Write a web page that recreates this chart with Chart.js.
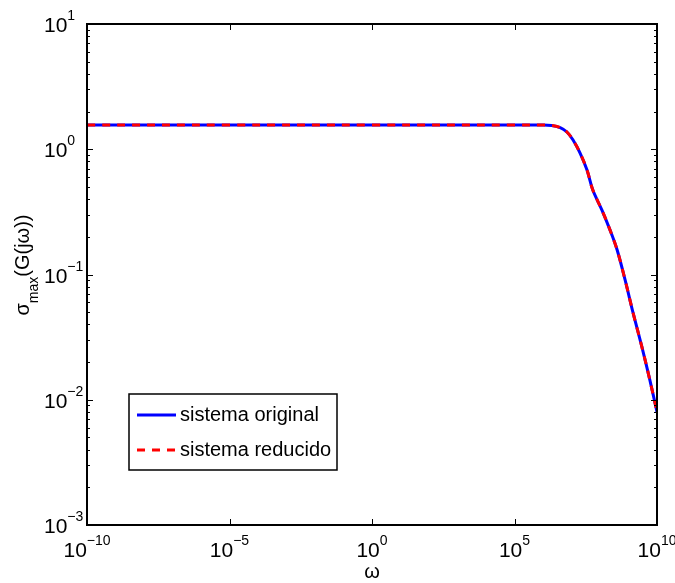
<!DOCTYPE html>
<html>
<head>
<meta charset="utf-8">
<script src="https://cdn.jsdelivr.net/npm/chart.js@4/dist/chart.umd.min.js"></script>
<style>
    body { margin: 0; background: #fff; }
</style>
</head>
<body>
<canvas id="chart" width="675" height="583"></canvas>
<script>
// frequency points (rad/s)
const omega = [1e-10, 1e-5, 1, 1e5, 7.8e5, 2.0e6, 4.0e6, 6.9e6, 1.12e7, 2.0e7, 3.5e7, 5.6e7, 1.17e8, 2.24e8, 4.0e8, 7.6e8, 1.45e9, 2.95e9, 5.6e9, 1e10];
const sigmaOriginal = [1.56, 1.56, 1.56, 1.56, 1.56, 1.55, 1.49, 1.373, 1.19, 0.933, 0.683, 0.472, 0.327, 0.227, 0.157, 0.0904, 0.0493, 0.0264, 0.0144, 0.008];
const sigmaReducido = [1.56, 1.56, 1.56, 1.56, 1.56, 1.55, 1.49, 1.373, 1.19, 0.933, 0.683, 0.472, 0.327, 0.227, 0.157, 0.0904, 0.0493, 0.0264, 0.0144, 0.008];
const seriesNames = ["sistema original", "sistema reducido"];
const xTickExps = [-10, -5, 0, 5, 10];
const yTickExps = [-3, -2, -1, 0, 1];

const FONT = "'Liberation Sans', Arial, Helvetica, sans-serif";

function toPoints(xs, ys) {
    return xs.map((x, i) => ({ x: x, y: ys[i] }));
}

// draws 10^exp
function drawPow(ctx, exp, x, baseline, align) {
    const base = "10";
    const sup = exp < 0 ? "\u2212" + Math.abs(exp) : String(exp);
    ctx.font = "21px " + FONT;
    const wb = ctx.measureText(base).width;
    ctx.font = "14px " + FONT;
    const ws = ctx.measureText(sup).width;
    let x0 = x;
    if (align === "center") x0 = x - (wb + ws) / 2;
    ctx.textAlign = "left";
    ctx.textBaseline = "alphabetic";
    ctx.font = "21px " + FONT;
    ctx.fillText(base, x0, baseline);
    ctx.font = "14px " + FONT;
    ctx.fillText(sup, x0 + wb, baseline - 12);
}

const axesPlugin = {
    id: "matlabAxes",
    afterDraw(chart) {
        const ctx = chart.ctx;
        const area = chart.chartArea;
        const xs = chart.scales.x;
        const ys = chart.scales.y;
        ctx.save();
        ctx.fillStyle = "#000";
        ctx.strokeStyle = "#000";

        // ticks (inward, both sides)
        ctx.lineWidth = 1;
        ctx.beginPath();
        xTickExps.forEach(e => {
            const px = Math.round(xs.getPixelForValue(Math.pow(10, e))) + 0.5;
            ctx.moveTo(px, area.bottom); ctx.lineTo(px, area.bottom - 6);
            ctx.moveTo(px, area.top); ctx.lineTo(px, area.top + 6);
        });
        for (let e = -3; e <= 1; e++) {
            for (let k = 1; k <= 9; k++) {
                if (e === 1 && k > 1) break;
                const py = Math.round(ys.getPixelForValue(k * Math.pow(10, e))) + 0.5;
                const len = k === 1 ? 6 : 3;
                ctx.moveTo(area.left, py); ctx.lineTo(area.left + len, py);
                ctx.moveTo(area.right, py); ctx.lineTo(area.right - len, py);
            }
        }
        ctx.stroke();

        // box
        ctx.lineWidth = 2;
        ctx.strokeRect(area.left, area.top, area.right - area.left, area.bottom - area.top);

        // tick labels
        xTickExps.forEach(e => {
            drawPow(ctx, e, xs.getPixelForValue(Math.pow(10, e)), 557, "center");
        });
        yTickExps.forEach(e => {
            drawPow(ctx, e, 44, ys.getPixelForValue(Math.pow(10, e)) + 8, "left");
        });

        // x title
        ctx.font = "20px " + FONT;
        ctx.textAlign = "center";
        ctx.textBaseline = "alphabetic";
        ctx.fillText("\u03c9", (area.left + area.right) / 2, 578);

        // y title
        ctx.save();
        ctx.translate(29, 265);
        ctx.rotate(-Math.PI / 2);
        ctx.textAlign = "left";
        ctx.font = "20px " + FONT;
        const w1 = ctx.measureText("\u03c3").width;
        ctx.font = "14px " + FONT;
        const w2 = ctx.measureText("max").width;
        ctx.font = "20px " + FONT;
        const w3 = ctx.measureText("(G(j\u03c9))").width;
        let tx = -(w1 + w2 + w3) / 2;
        ctx.fillText("\u03c3", tx, 0);
        ctx.font = "14px " + FONT;
        ctx.fillText("max", tx + w1, 9);
        ctx.font = "20px " + FONT;
        ctx.fillText("(G(j\u03c9))", tx + w1 + w2, 0);
        ctx.restore();

        // legend
        const lx = 129, ly = 394, lw = 208, lh = 76;
        ctx.fillStyle = "#fff";
        ctx.fillRect(lx, ly, lw, lh);
        ctx.lineWidth = 1.5;
        ctx.strokeStyle = "#000";
        ctx.strokeRect(lx, ly, lw, lh);
        chart.data.datasets.forEach((ds, i) => {
            const ry = i === 0 ? 415 : 450;
            ctx.strokeStyle = ds.borderColor;
            ctx.lineWidth = ds.borderWidth;
            ctx.setLineDash(ds.borderDash || []);
            ctx.beginPath();
            ctx.moveTo(137, ry); ctx.lineTo(176, ry);
            ctx.stroke();
            ctx.setLineDash([]);
            ctx.fillStyle = "#000";
            ctx.font = "20px " + FONT;
            ctx.textAlign = "left";
            ctx.textBaseline = "middle";
            ctx.fillText(ds.label, 180, ry);
        });
        ctx.restore();
    }
};

new Chart(document.getElementById("chart"), {
    type: "line",
    data: {
        datasets: [
            {
                label: seriesNames[0],
                data: toPoints(omega, sigmaOriginal),
                borderColor: "#0000ff",
                borderWidth: 3,
                pointRadius: 0,
                tension: 0.35,
                order: 2
            },
            {
                label: seriesNames[1],
                data: toPoints(omega, sigmaReducido),
                borderColor: "#ff0000",
                borderWidth: 3,
                borderDash: [8, 7],
                pointRadius: 0,
                tension: 0.35,
                order: 1
            }
        ]
    },
    options: {
        responsive: false,
        animation: false,
        devicePixelRatio: 1,
        layout: { padding: { top: 24, right: 18, left: 0, bottom: 0 } },
        plugins: { legend: { display: false }, tooltip: { enabled: false } },
        scales: {
            x: {
                type: "logarithmic",
                min: 1e-10,
                max: 1e10,
                grid: { display: false },
                border: { display: false },
                ticks: { display: false },
                afterFit(scale) { scale.height = 58; }
            },
            y: {
                type: "logarithmic",
                min: 1e-3,
                max: 10,
                grid: { display: false },
                border: { display: false },
                ticks: { display: false },
                afterFit(scale) { scale.width = 87; }
            }
        }
    },
    plugins: [axesPlugin]
});
</script>
</body>
</html>
